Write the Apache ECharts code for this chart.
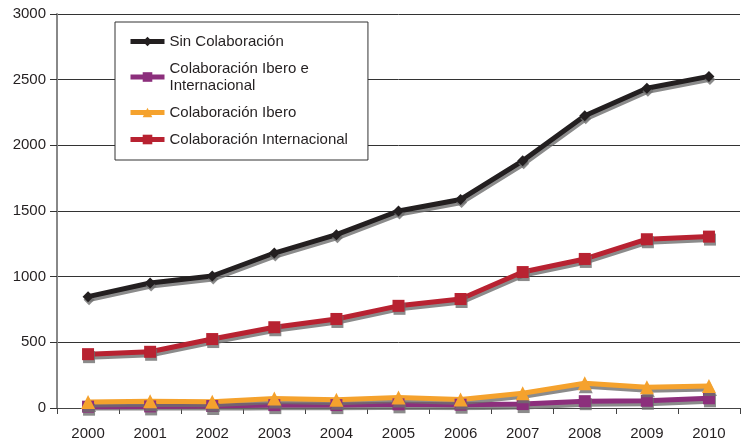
<!DOCTYPE html>
<html><head><meta charset="utf-8">
<script src="https://cdn.jsdelivr.net/npm/echarts@6/dist/echarts.min.js"></script>
<style>html,body{margin:0;padding:0;background:#fff}#c{width:749px;height:442px}</style>
</head><body><div id="c"></div>
<script>
const years = ['2000','2001','2002','2003','2004','2005','2006','2007','2008','2009','2010'];
const sinColab = [848, 952, 1005, 1180, 1320, 1500, 1588, 1882, 2225, 2435, 2525];
const iberoInter = [10, 12, 15, 22, 22, 28, 25, 30, 52, 55, 74];
const ibero = [45, 52, 47, 72, 62, 80, 65, 112, 188, 158, 168];
const internacional = [410, 428, 525, 615, 678, 778, 830, 1035, 1135, 1285, 1305];
const yTicks = [0, 500, 1000, 1500, 2000, 2500, 3000];

const font = 'Liberation Sans, Arial, sans-serif';
const shadow = {shadowColor:'rgba(110,110,110,0.8)', shadowOffsetX:1, shadowOffsetY:3, shadowBlur:0};
function mk(name, data, color, symbol, size){
  return {name, type:'line', data, symbol, symbolSize:size, showSymbol:true,
    lineStyle:Object.assign({color, width:5}, shadow),
    itemStyle:Object.assign({color, borderWidth:0}, shadow),
    animation:false, z:2};
}
const chart = echarts.init(document.getElementById('c'));
chart.setOption({
  animation:false,
  grid:{left:57, right:9, top:14, bottom:34},
  legend:{orient:'vertical', left:115, top:22, backgroundColor:'#fff', borderColor:'#333', borderWidth:1,
    padding:[11, 20, 12, 13], itemWidth:34, itemHeight:12, itemGap:10,
    lineStyle:{width:5, shadowBlur:0, shadowOffsetX:0, shadowOffsetY:0, shadowColor:'transparent'},
    itemStyle:{shadowBlur:0, shadowOffsetX:0, shadowOffsetY:0, shadowColor:'transparent'},
    textStyle:{fontFamily:font, fontSize:15, color:'#231f20', lineHeight:17},
    data:['Sin Colaboración','Colaboración Ibero e\nInternacional','Colaboración Ibero','Colaboración Internacional']},
  xAxis:{type:'category', data:years, boundaryGap:true,
    axisLine:{lineStyle:{color:'#444', width:1}},
    axisTick:{show:true, length:6, lineStyle:{color:'#444'}},
    axisLabel:{fontFamily:font, fontSize:15, color:'#231f20', margin:18}},
  yAxis:{type:'value', min:0, max:3000, interval:500,
    axisLine:{show:true, lineStyle:{color:'#888', width:2}},
    axisTick:{show:true, length:7, lineStyle:{color:'#333'}},
    splitLine:{lineStyle:{color:'#333', width:1}},
    axisLabel:{fontFamily:font, fontSize:15, color:'#231f20', margin:11,
      formatter:v => yTicks.includes(v) ? String(v) : ''}},
  series:[
    mk('Sin Colaboración', sinColab, '#231f20', 'diamond', 11),
    mk('Colaboración Ibero e\nInternacional', iberoInter, '#8c2f7c', 'rect', 12),
    mk('Colaboración Ibero', ibero, '#f5a22d', 'triangle', 14),
    mk('Colaboración Internacional', internacional, '#b82231', 'rect', 12)
  ]
});
</script></body></html>
